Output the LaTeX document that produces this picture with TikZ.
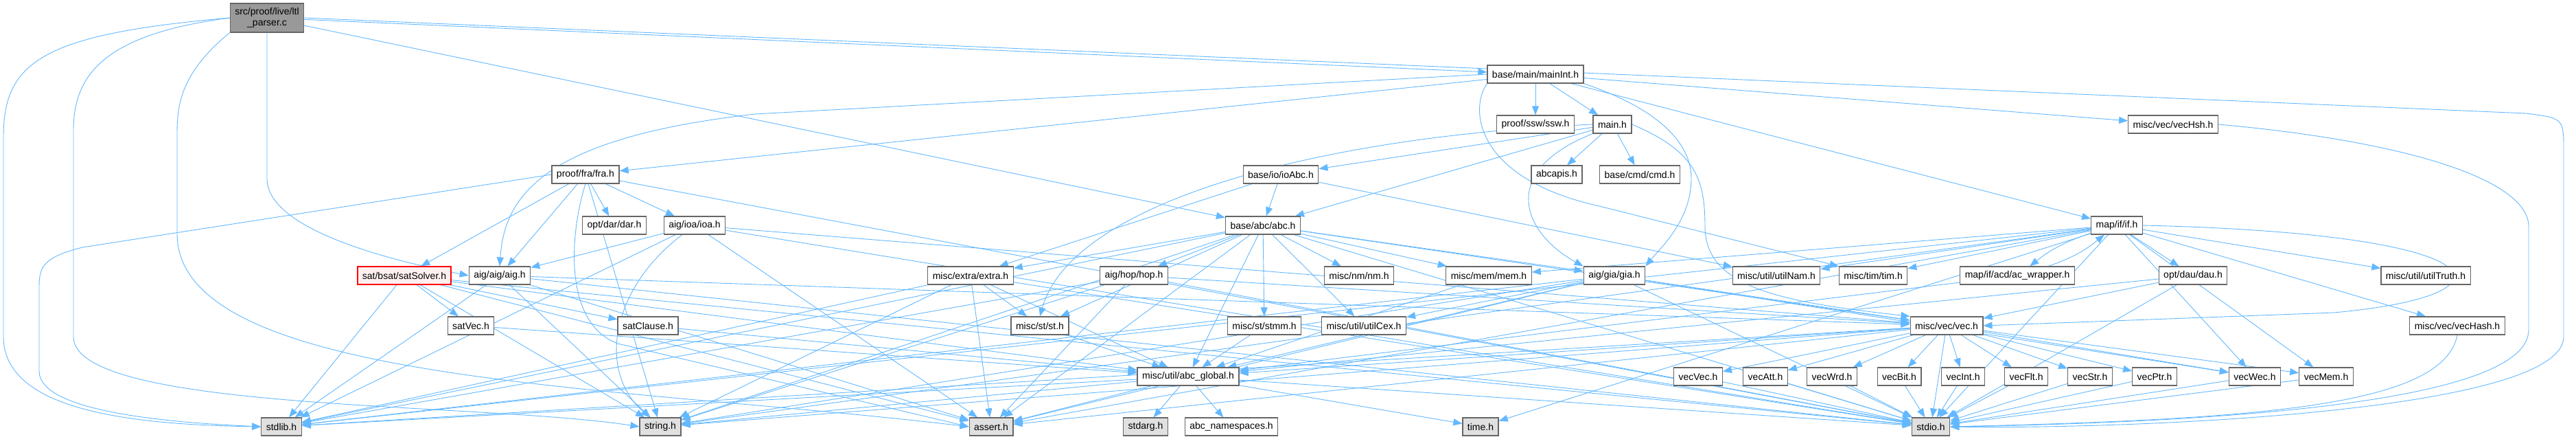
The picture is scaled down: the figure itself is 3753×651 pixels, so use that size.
\documentclass[tikz,border=0pt]{standalone}
\usepackage{fontspec}
\setsansfont{Liberation Sans}
\usetikzlibrary{arrows.meta}
\definecolor{edgeblue}{RGB}{99,184,255}
\definecolor{boxgray}{RGB}{102,102,102}
\definecolor{sysgray}{RGB}{224,224,224}
\definecolor{rootgray}{RGB}{153,153,153}
\definecolor{trunclight}{RGB}{255,240,240}
\pgfdeclarelayer{bg}
\pgfsetlayers{bg,main}
\begin{document}
\begin{tikzpicture}[x=1pt,y=-1pt,
  hdr/.style={draw=boxgray,line width=1.2pt,fill=white,font=\sffamily\fontsize{14}{16}\selectfont,inner xsep=7pt,inner ysep=0pt,minimum height=26pt},
  sys/.style={hdr,fill=sysgray},
  root/.style={hdr,fill=rootgray,align=center,minimum height=42pt},
  trunc/.style={hdr,draw=red,fill=trunclight},
  dep/.style={draw=edgeblue,line width=0.9pt,-{Triangle[length=13pt,width=10pt]}}]
\useasboundingbox (0,0) rectangle (3753,651);
\node[root] (ltl) at (389,26) {src/proof/live/ltl\\\_parser.c};
\node[hdr] (mainInt) at (2237,108) {base/main/mainInt.h};
\node[hdr] (ssw) at (2237,181) {proof/ssw/ssw.h};
\node[hdr] (main) at (2349,181) {main.h};
\node[hdr] (vecHsh) at (3166,181) {misc/vec/vecHsh.h};
\node[hdr] (fra) at (853,254) {proof/fra/fra.h};
\node[hdr] (ioAbc) at (1866,254) {base/io/ioAbc.h};
\node[hdr] (abcapis) at (2268,254) {abcapis.h};
\node[hdr] (cmd) at (2389,254) {base/cmd/cmd.h};
\node[hdr] (dar) at (895,328) {opt/dar/dar.h};
\node[hdr] (ioa) at (1012,328) {aig/ioa/ioa.h};
\node[hdr] (abc) at (1840,328) {base/abc/abc.h};
\node[hdr] (ifh) at (3084,328) {map/if/if.h};
\node[trunc] (satSolver) at (589,401) {sat/bsat/satSolver.h};
\node[hdr] (aig) at (728,401) {aig/aig/aig.h};
\node[hdr] (extra) at (1414,401) {misc/extra/extra.h};
\node[hdr] (hop) at (1652,401) {aig/hop/hop.h};
\node[hdr] (nm) at (1980,401) {misc/nm/nm.h};
\node[hdr] (mem) at (2169,401) {misc/mem/mem.h};
\node[hdr] (gia) at (2352,401) {aig/gia/gia.h};
\node[hdr] (utilNam) at (2588,401) {misc/util/utilNam.h};
\node[hdr] (tim) at (2729,401) {misc/tim/tim.h};
\node[hdr] (acw) at (2939,401) {map/if/acd/ac\_wrapper.h};
\node[hdr] (dau) at (3195,401) {opt/dau/dau.h};
\node[hdr] (utilTruth) at (3534,401) {misc/util/utilTruth.h};
\node[hdr] (satVec) at (686,474) {satVec.h};
\node[hdr] (satClause) at (944,474) {satClause.h};
\node[hdr] (st) at (1515,474) {misc/st/st.h};
\node[hdr] (stmm) at (1842,474) {misc/st/stmm.h};
\node[hdr] (utilCex) at (1987,474) {misc/util/utilCex.h};
\node[hdr] (vec) at (2836,474) {misc/vec/vec.h};
\node[hdr] (vecHash) at (3580,474) {misc/vec/vecHash.h};
\node[hdr] (abcGlobal) at (1731,548) {misc/util/abc\_global.h};
\foreach \n/\x in {vecVec/2474,vecAtt/2572,vecWrd/2669,vecBit/2767,vecInt/2860,vecFlt/2952,vecStr/3045,vecPtr/3139,vecWec/3285,vecMem/3389}
  \node[hdr] (\n) at (\x,548) {\n.h};
\foreach \n/\x in {stdlib/410,string/962,assert/1444,stdarg/1669,time/2157,stdio/2813}
  \node[sys] (\n) at (\x,621) {\n.h};
\node[hdr] (abcNs) at (1794,621) {abc\_namespaces.h};
\begin{pgfonlayer}{bg}
\foreach \s/\t in {ltl/mainInt,ltl/abc,
  mainInt/main,mainInt/ssw,mainInt/fra,mainInt/vecHsh,mainInt/ifh,
  main/ioAbc,main/abc,main/abcapis,main/cmd,
  ioAbc/abc,ioAbc/extra,ioAbc/utilNam,
  fra/satSolver,fra/aig,fra/dar,fra/ioa,fra/string,fra/stdio,
  ioa/aig,ioa/stdlib,ioa/assert,ioa/stdio,ioa/vec,
  aig/stdlib,aig/string,aig/assert,aig/stdio,aig/vec,
  satSolver/stdlib,satSolver/string,satSolver/assert,satSolver/stdio,satSolver/satVec,satSolver/satClause,satSolver/abcGlobal,
  satVec/abcGlobal,satClause/abcGlobal,
  extra/stdlib,extra/string,extra/assert,extra/st,extra/abcGlobal,extra/stdio,
  hop/stdio,hop/stdlib,hop/string,hop/assert,hop/vec,
  st/abcGlobal,stmm/abcGlobal,mem/abcGlobal,
  abc/extra,abc/hop,abc/st,abc/stmm,abc/nm,abc/mem,abc/gia,abc/utilCex,abc/vec,abc/stdio,abc/stdlib,abc/string,abc/assert,abc/abcGlobal,
  gia/utilCex,gia/vec,gia/vecWec,gia/stdio,gia/stdlib,gia/string,gia/assert,gia/abcGlobal,
  ifh/utilNam,ifh/tim,ifh/mem,ifh/dau,ifh/utilTruth,ifh/vecHash,ifh/vecWec,ifh/vecMem,ifh/stdio,ifh/stdlib,ifh/string,ifh/assert,ifh/time,
  acw/abcGlobal,dau/vec,dau/stdio,dau/abcGlobal,
  vec/vecVec,vec/vecAtt,vec/vecWrd,vec/vecBit,vec/vecInt,vec/vecFlt,vec/vecStr,vec/vecPtr,vec/vecWec,vec/vecMem,
  vec/stdio,vec/stdlib,vec/string,vec/assert,vec/abcGlobal,
  abcGlobal/stdio,abcGlobal/stdlib,abcGlobal/string,abcGlobal/assert,abcGlobal/stdarg,abcGlobal/abcNs,abcGlobal/time}
  \draw[dep] (\s) -- (\t);
\foreach \n in {vecVec,vecAtt,vecWrd,vecBit,vecInt,vecFlt,vecStr,vecPtr,vecWec,vecMem}
  \draw[dep] (\n) -- (stdio);
\draw[dep] (ltl.west) .. controls (60,50) and (5,90) .. (5,200) -- (5,490) .. controls (5,600) and (200,618) .. (stdlib.west);
\draw[dep] (ltl.west) .. controls (150,50) and (107,110) .. (107,190) -- (107,490) .. controls (107,600) and (700,585) .. (string.west);
\draw[dep] (ltl.south west) .. controls (258,110) and (258,160) .. (258,200) -- (258,340) .. controls (258,560) and (900,560) .. (assert.west);
\draw[dep] (ltl.south) -- (389,260) .. controls (389,340) and (600,385) .. (aig.west);
\draw[dep] (ltl.east) -- (3680,165) .. controls (3735,172) .. (3735,220) -- (3735,490) .. controls (3735,600) and (3100,625) .. (stdio.east);
\draw[dep] (mainInt.west) -- (1100,166) .. controls (800,200) and (735,280) .. (aig.north);
\draw[dep] (mainInt.south west) .. controls (2140,160) and (2150,260) .. (2330,300) -- (tim.north west);
\draw[dep] (mainInt.south east) .. controls (2420,160) and (2464,210) .. (2464,260) .. controls (2464,320) and (2420,360) .. (gia.north east);
\draw[dep] (main.south west) .. controls (2180,250) and (2220,340) .. (gia.north west);
\draw[dep] (main.east) .. controls (2470,220) and (2484,260) .. (2484,330) .. controls (2484,420) and (2600,440) .. (vec.north west);
\draw[dep] (main.west) .. controls (1900,200) and (1560,300) .. (st.north);
\draw[dep] (fra.west) -- (120,360) .. controls (60,375) and (57,390) .. (57,420) -- (57,540) .. controls (57,600) and (250,615) .. (stdlib.west);
\draw[dep] (fra.south) .. controls (830,340) and (820,470) .. (900,500) -- (assert.west);
\draw[dep] (ioa) .. controls (890,420) and (870,540) .. (string);
\draw[dep] (ifh.east) .. controls (3650,340) and (3680,430) .. (3400,455) -- (vec.east);
\draw[dep] (ifh) to[bend right=10] (acw);
\draw[dep] (acw) to[bend right=10] (ifh);
\draw[dep] (vecHash.south) .. controls (3560,590) and (3300,610) .. (stdio.east);
\draw[dep] (vecHsh.east) .. controls (3500,205) and (3684,260) .. (3684,330) -- (3684,480) .. controls (3684,590) and (3200,615) .. (stdio.east);
\end{pgfonlayer}
\end{tikzpicture}
\end{document}
